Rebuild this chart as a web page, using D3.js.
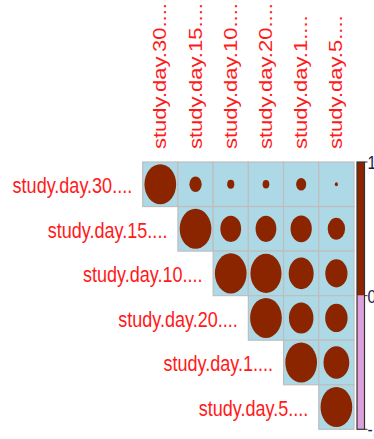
<!DOCTYPE html>
<html>
<head>
<meta charset="utf-8">
<script src="https://cdn.jsdelivr.net/npm/d3@7"></script>
<style>
  html, body { margin: 0; padding: 0; background: #fff; }
  svg { display: block; }
  text { font-family: "Liberation Sans", Arial, sans-serif; }
</style>
</head>
<body>
<svg id="chart" width="374" height="439"></svg>
<script>
// Variable names (rows and columns share the same order)
const variables = ["study.day.30....", "study.day.15....", "study.day.10....",
                   "study.day.20....", "study.day.1....", "study.day.5...."];

// Upper-triangle correlation values, one array per row (starting at the diagonal)
const rowDay30 = [1, 0.15, 0.05, 0.045, 0.10, 0.01];
const rowDay15 = [1, 0.43, 0.43, 0.45, 0.30];
const rowDay10 = [1, 0.96, 0.62, 0.49];
const rowDay20 = [1, 0.60, 0.50];
const rowDay1  = [1, 0.66];
const rowDay5  = [1];
const corrRows = [rowDay30, rowDay15, rowDay10, rowDay20, rowDay1, rowDay5];

// Colour legend tick labels
const legendTicks = ["1", "0", "-1"];
const legendValues = [1, 0, -1];

const svg = d3.select("#chart");

const x = d3.scaleBand().domain(variables).range([142.7, 354]).padding(0);
const y = d3.scaleBand().domain(variables).range([162, 429.3]).padding(0);
const rx = d3.scaleSqrt().domain([0, 1]).range([0, 0.45 * x.bandwidth()]);
const ry = d3.scaleSqrt().domain([0, 1]).range([0, 0.45 * y.bandwidth()]);

const cells = [];
corrRows.forEach((vals, i) => {
  vals.forEach((v, k) => {
    cells.push({ row: variables[i], col: variables[i + k], value: v });
  });
});

// Cell backgrounds
svg.append("g").selectAll("rect").data(cells).join("rect")
  .attr("x", d => x(d.col))
  .attr("y", d => y(d.row))
  .attr("width", x.bandwidth())
  .attr("height", y.bandwidth())
  .attr("fill", "#ADD8E6")
  .attr("stroke", "#BEBEBE")
  .attr("stroke-width", 1.2);

// Correlation ellipses, area proportional to |r|
svg.append("g").selectAll("ellipse").data(cells).join("ellipse")
  .attr("cx", d => x(d.col) + x.bandwidth() / 2)
  .attr("cy", d => y(d.row) + y.bandwidth() / 2)
  .attr("rx", d => rx(Math.abs(d.value)))
  .attr("ry", d => ry(Math.abs(d.value)))
  .attr("fill", "#8B2500");

const sx = 0.82; // horizontal squeeze of the label font

// Row labels
svg.append("g").selectAll("text").data(variables).join("text")
  .attr("transform", (d) => `translate(${x(d) - 10.5},${y(d) + y.bandwidth() / 2 + 9}) scale(${sx},1)`)
  .attr("text-anchor", "end")
  .attr("font-size", 22)
  .attr("fill", "#FF1A1A")
  .text(d => d);

// Column labels (vertical)
svg.append("g").selectAll("text").data(variables).join("text")
  .attr("transform", (d) => `translate(${x(d) + x.bandwidth() / 2 + 6},149) scale(${sx},1) rotate(-90)`)
  .attr("text-anchor", "start")
  .attr("font-size", 22)
  .attr("fill", "#FF1A1A")
  .text(d => d);

// Colour legend
const cy = d3.scaleLinear().domain([1, -1]).range([162, 429.3]);
const barX = 357, barW = 7.5;
const legend = svg.append("g");
legend.append("rect")
  .attr("x", barX).attr("y", cy(1))
  .attr("width", barW).attr("height", cy(0) - cy(1))
  .attr("fill", "#8B2500");
legend.append("rect")
  .attr("x", barX).attr("y", cy(0))
  .attr("width", barW).attr("height", cy(-1) - cy(0))
  .attr("fill", "#DDA0DD");
legend.append("rect")
  .attr("x", barX).attr("y", cy(1))
  .attr("width", barW).attr("height", cy(-1) - cy(1))
  .attr("fill", "none")
  .attr("stroke", "#333")
  .attr("stroke-width", 1.2);
legend.selectAll("line").data(legendValues).join("line")
  .attr("x1", barX + barW).attr("x2", barX + barW + 3)
  .attr("y1", d => cy(d)).attr("y2", d => cy(d))
  .attr("stroke", "#333");
legend.selectAll("text").data(legendTicks).join("text")
  .attr("transform", (d, i) => `translate(${barX + barW + 3},${cy(legendValues[i]) + 7}) scale(${sx},1)`)
  .attr("font-size", 19)
  .attr("fill", "#1a1a4a")
  .text(d => d);
</script>
</body>
</html>
